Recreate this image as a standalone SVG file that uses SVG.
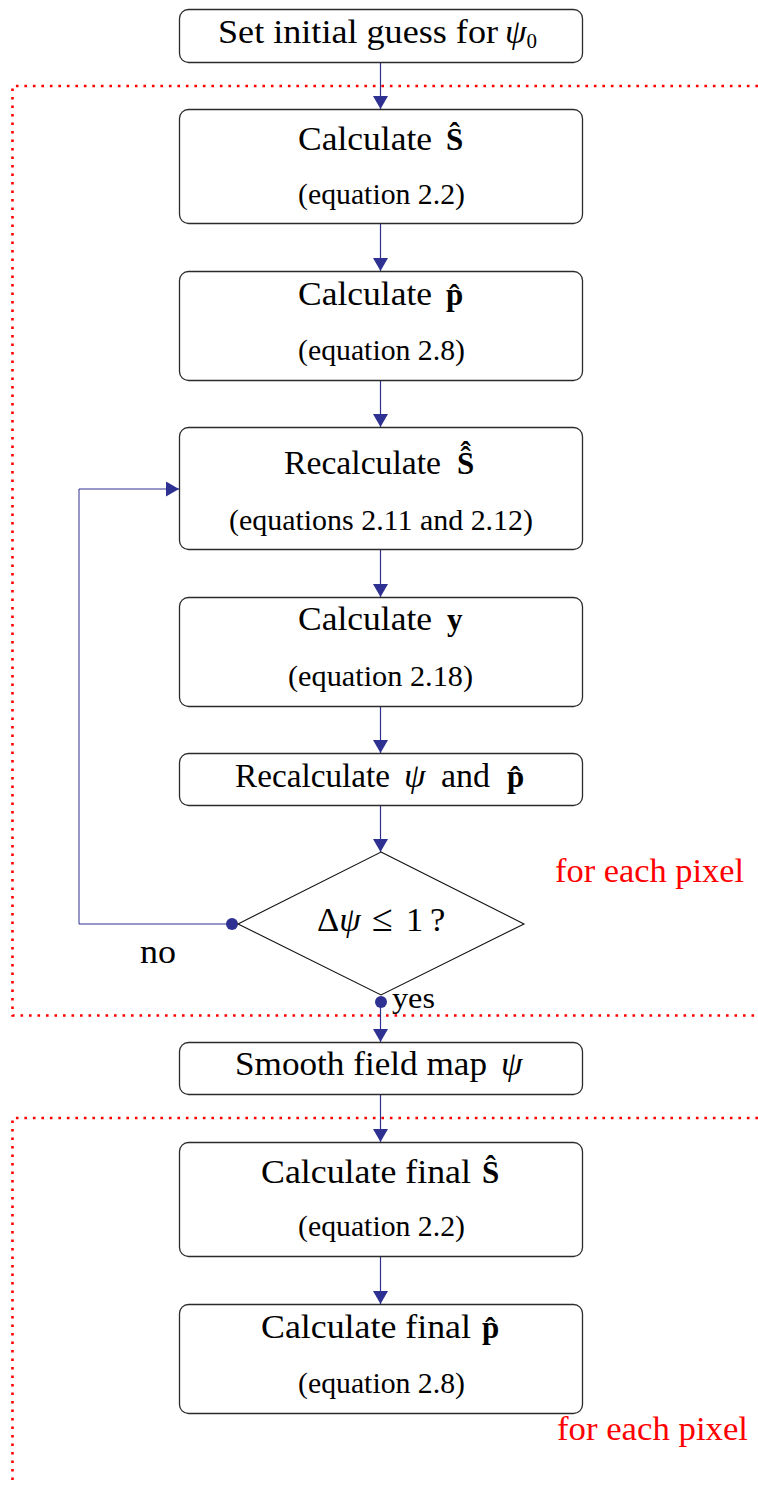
<svg xmlns="http://www.w3.org/2000/svg" width="758" height="1486" viewBox="0 0 758 1486">
  <style>
    .box { fill: #ffffff; stroke: #2b2b2b; stroke-width: 1.3; }
    .dia { fill: #ffffff; stroke: #111111; stroke-width: 1.1; }
    .t { font-family: "Liberation Serif", "Times New Roman", serif; font-size: 34.5px; fill: #000000; }
    .s { font-family: "Liberation Serif", "Times New Roman", serif; font-size: 29px; fill: #000000; }
    .b { font-family: "Liberation Serif", "Times New Roman", serif; font-size: 31px; font-weight: bold; fill: #000000; }
    .i { font-family: "Liberation Serif", "Times New Roman", serif; font-size: 34.5px; font-style: italic; fill: #000000; }
    .red { font-family: "Liberation Serif", "Times New Roman", serif; font-size: 34.5px; fill: #ff0000; }
    .small { font-size: 29px; }
    .sub { font-size: 21px; font-style: normal; }
    .rel { font-size: 38px; font-style: normal; }
    .conn { fill: none; stroke: #2e3192; stroke-width: 1.2; }
    .loop { fill: none; stroke: #2e3192; stroke-width: 1; }
    .dot { fill: #2e3192; }
    .region { fill: none; stroke: #ff0000; stroke-width: 2.6; stroke-dasharray: 2.6 5.9; }
  </style>
  <defs>
    <marker id="arrow" markerUnits="userSpaceOnUse" markerWidth="14" markerHeight="16" refX="13" refY="7.5" orient="auto">
      <path d="M0,0 L13,7.5 L0,15 z" fill="#2e3192"/>
    </marker>
  </defs>

  <!-- dotted regions: per-pixel loops -->
  <g id="regions">
    <path class="region" d="M758,86 H12.5 V1015.5 H758"/>
    <path class="region" d="M758,1118 H12.5 V1486"/>
    <text class="red" x="555" y="882" textLength="189" lengthAdjust="spacingAndGlyphs">for each pixel</text>
    <text class="red" x="557" y="1440" textLength="191" lengthAdjust="spacingAndGlyphs">for each pixel</text>
  </g>

  <!-- connectors -->
  <g id="connectors">
    <path class="conn" d="M380.5,62 V109" marker-end="url(#arrow)"/>
    <path class="conn" d="M380.5,224 V271" marker-end="url(#arrow)"/>
    <path class="conn" d="M380.5,380 V427" marker-end="url(#arrow)"/>
    <path class="conn" d="M380.5,549 V597" marker-end="url(#arrow)"/>
    <path class="conn" d="M380.5,706 V753" marker-end="url(#arrow)"/>
    <path class="conn" d="M380.5,805 V852" marker-end="url(#arrow)"/>
    <path class="conn" d="M380.5,1002 V1042" marker-end="url(#arrow)"/>
    <path class="conn" d="M380.5,1094 V1142" marker-end="url(#arrow)"/>
    <path class="conn" d="M380.5,1256 V1304" marker-end="url(#arrow)"/>
    <path class="loop" d="M232,924 H79 V489 H179" marker-end="url(#arrow)"/>
    <circle class="dot" cx="232" cy="924" r="6"/>
    <circle class="dot" cx="381" cy="1002" r="6"/>
    <text class="t" x="140" y="963" textLength="36" lengthAdjust="spacingAndGlyphs">no</text>
    <text class="t small" x="392" y="1008" textLength="43" lengthAdjust="spacingAndGlyphs">yes</text>
  </g>

  <!-- start -->
  <g id="n-init">
    <rect class="box" x="179.5" y="9.5" width="403" height="53" rx="9"/>
    <text class="t" x="218" y="43" textLength="280" lengthAdjust="spacingAndGlyphs">Set initial guess for</text>
    <text class="i" x="505" y="43">ψ<tspan class="sub" dy="5">0</tspan></text>
  </g>

  <g id="n-calc-s">
    <rect class="box" x="179.5" y="109.5" width="403" height="114" rx="9"/>
    <text class="t" x="298" y="150" textLength="134" lengthAdjust="spacingAndGlyphs">Calculate</text>
    <text class="b" x="446" y="150">Ŝ</text>
    <text class="s" x="298" y="204" textLength="167" lengthAdjust="spacingAndGlyphs">(equation 2.2)</text>
  </g>

  <g id="n-calc-p">
    <rect class="box" x="179.5" y="271.5" width="403" height="109" rx="9"/>
    <text class="t" x="298" y="305" textLength="134" lengthAdjust="spacingAndGlyphs">Calculate</text>
    <text class="b" x="446" y="305">p̂</text>
    <text class="s" x="298" y="360" textLength="167" lengthAdjust="spacingAndGlyphs">(equation 2.8)</text>
  </g>

  <g id="n-recalc-s">
    <rect class="box" x="179.5" y="427.5" width="403" height="122" rx="9"/>
    <text class="t" x="284" y="474" textLength="157" lengthAdjust="spacingAndGlyphs">Recalculate</text>
    <text class="b" x="457" y="474">Ŝ<tspan dx="-13.7" dy="-11">ˆ</tspan></text>
    <text class="s" x="229" y="530" textLength="304" lengthAdjust="spacingAndGlyphs">(equations 2.11 and 2.12)</text>
  </g>

  <g id="n-calc-y">
    <rect class="box" x="179.5" y="597.5" width="403" height="109" rx="9"/>
    <text class="t" x="298" y="630" textLength="134" lengthAdjust="spacingAndGlyphs">Calculate</text>
    <text class="b" x="447" y="630">y</text>
    <text class="s" x="288" y="686" textLength="185" lengthAdjust="spacingAndGlyphs">(equation 2.18)</text>
  </g>

  <g id="n-recalc-psi">
    <rect class="box" x="179.5" y="753.5" width="403" height="52" rx="9"/>
    <text class="t" x="235" y="787" textLength="155" lengthAdjust="spacingAndGlyphs">Recalculate</text>
    <text class="i" x="404" y="787">ψ</text>
    <text class="t" x="441" y="787" textLength="49" lengthAdjust="spacingAndGlyphs">and</text>
    <text class="b" x="507" y="787">p̂</text>
  </g>

  <g id="n-check">
    <polygon class="dia" points="381,852 524,924 381,995 238,924"/>
    <text class="t" x="317" y="931">Δ<tspan font-style="italic">ψ</tspan><tspan class="rel" x="372">≤</tspan><tspan x="406">1</tspan><tspan x="430">?</tspan></text>
  </g>

  <g id="n-smooth">
    <rect class="box" x="179.5" y="1042.5" width="403" height="52" rx="9"/>
    <text class="t" x="235" y="1075" textLength="252" lengthAdjust="spacingAndGlyphs">Smooth field map</text>
    <text class="i" x="501" y="1075">ψ</text>
  </g>

  <g id="n-final-s">
    <rect class="box" x="179.5" y="1142.5" width="403" height="114" rx="9"/>
    <text class="t" x="261" y="1183" textLength="210" lengthAdjust="spacingAndGlyphs">Calculate final</text>
    <text class="b" x="482" y="1183">Ŝ</text>
    <text class="s" x="298" y="1236" textLength="167" lengthAdjust="spacingAndGlyphs">(equation 2.2)</text>
  </g>

  <g id="n-final-p">
    <rect class="box" x="179.5" y="1304.5" width="403" height="109" rx="9"/>
    <text class="t" x="261" y="1338" textLength="210" lengthAdjust="spacingAndGlyphs">Calculate final</text>
    <text class="b" x="482" y="1338">p̂</text>
    <text class="s" x="298" y="1393" textLength="167" lengthAdjust="spacingAndGlyphs">(equation 2.8)</text>
  </g>
</svg>
